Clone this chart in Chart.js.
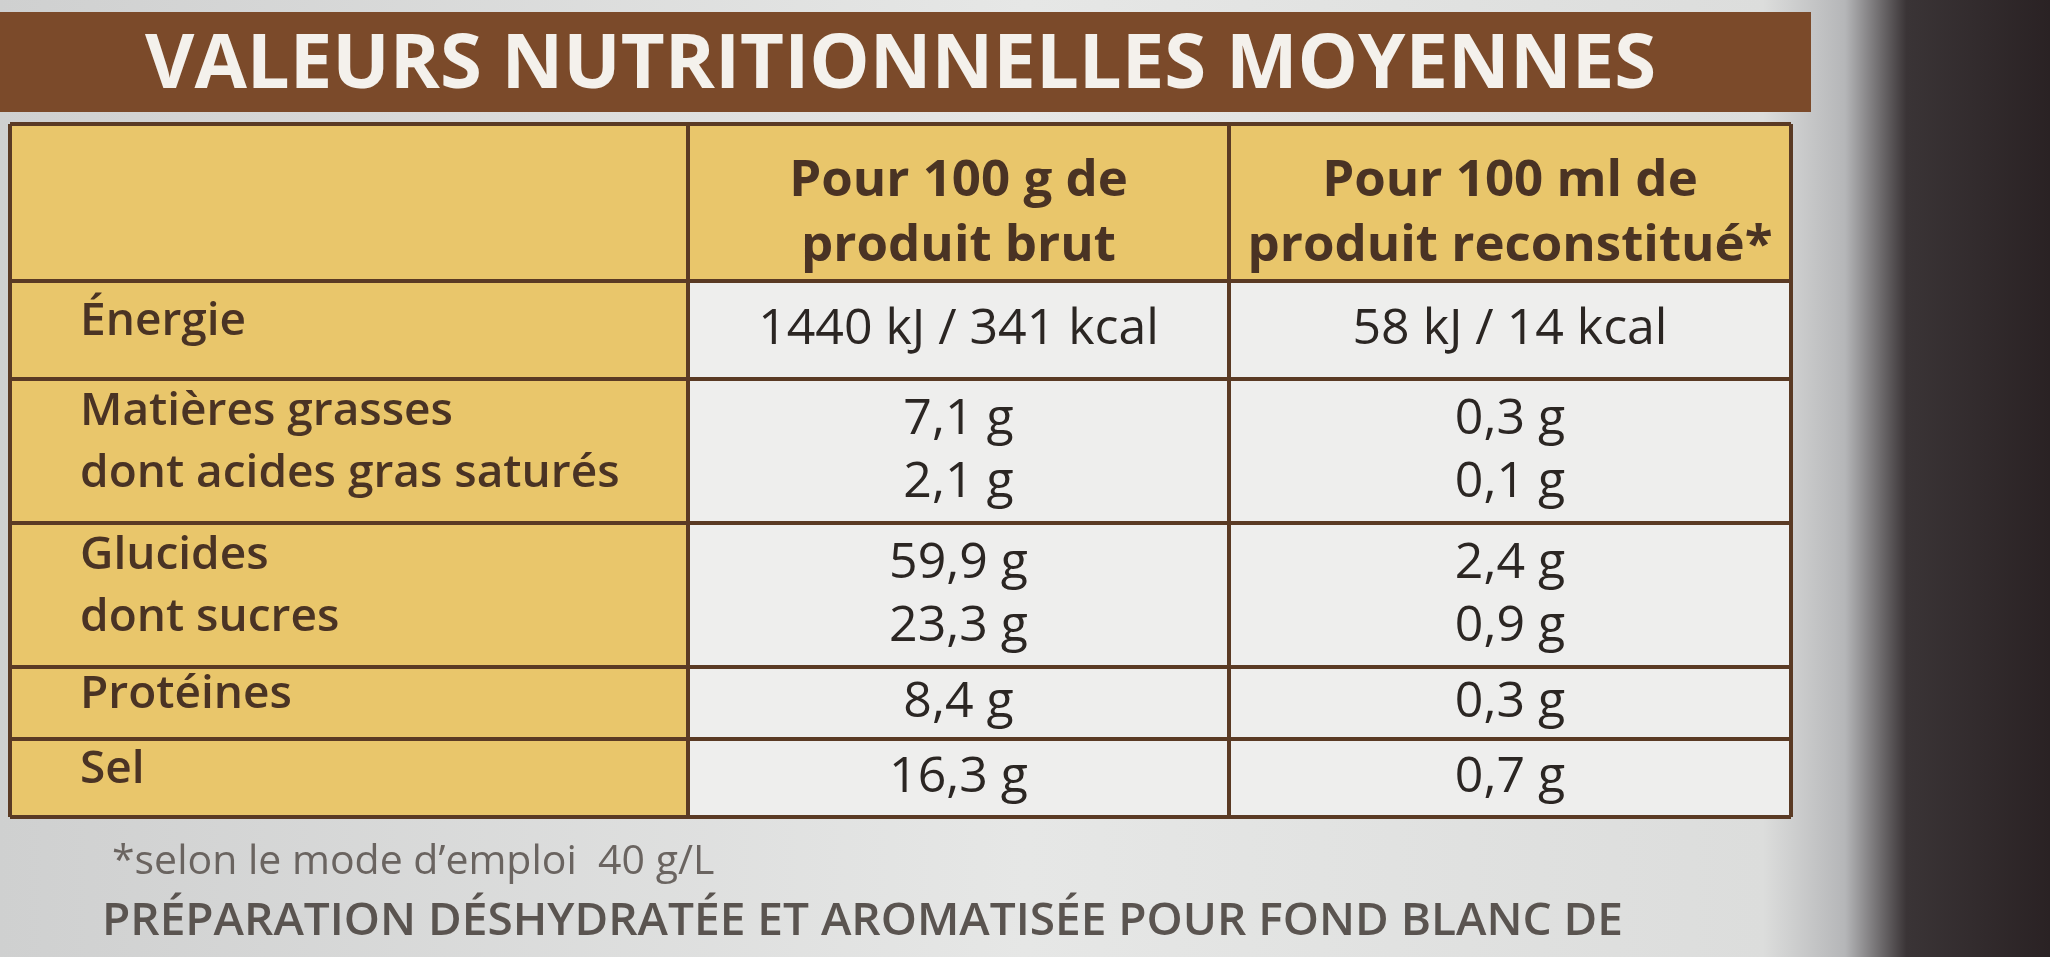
<!DOCTYPE html>
<html>
<head>
<meta charset="utf-8">
<script src="https://cdn.jsdelivr.net/npm/chart.js@4"></script>
<style>
  html, body { margin: 0; padding: 0; background: #d8d8d6; }
  canvas { display: block; }
</style>
</head>
<body>
<canvas id="label" width="2050" height="957"></canvas>
<script>
const title = 'VALEURS NUTRITIONNELLES MOYENNES'
const columnHeaders = [['Pour 100 g de', 'produit brut'], ['Pour 100 ml de', 'produit reconstitué*']]
const rowLabels = [['Énergie'], ['Matières grasses', 'dont acides gras saturés'], ['Glucides', 'dont sucres'], ['Protéines'], ['Sel']]
const perGram = [['1440 kJ / 341 kcal'], ['7,1 g', '2,1 g'], ['59,9 g', '23,3 g'], ['8,4 g'], ['16,3 g']]
const perMl = [['58 kJ / 14 kcal'], ['0,3 g', '0,1 g'], ['2,4 g', '0,9 g'], ['0,3 g'], ['0,7 g']]
const footnote = '*selon le mode d\u2019emploi  40 g/L'
const description = 'PRÉPARATION DÉSHYDRATÉE ET AROMATISÉE POUR FOND BLANC DE'

// grid lines of the table, in the page's own units
const colEdges = [10, 688, 1229, 1791]
const rowEdges = [124, 281, 379, 523, 667, 739, 817]

const tablePlugin = {
  id: 'table',
  beforeDraw(chart) {
    const { ctx, scales: { x, y } } = chart
    const X = v => x.getPixelForValue(v)
    const Y = v => y.getPixelForValue(v)
    ctx.save()
    // paper background
    const g = ctx.createLinearGradient(0, 0, X(2050), 0)
    g.addColorStop(0, '#cfd0d0')
    g.addColorStop(0.5, '#e6e7e6')
    g.addColorStop(0.86, '#dcdddc')
    g.addColorStop(0.9, '#b5b6b8')
    g.addColorStop(0.93, '#3a3436')
    g.addColorStop(1, '#2a2224')
    ctx.fillStyle = g
    ctx.fillRect(0, 0, chart.width, chart.height)

    // title band
    ctx.fillStyle = '#7b4a2a'
    ctx.fillRect(X(0), Y(12), X(1811) - X(0), Y(112) - Y(12))
    ctx.fillStyle = '#f4f1ec'
    ctx.font = 'bold 76px "Open Sans", sans-serif'
    ctx.textBaseline = 'middle'
    ctx.textAlign = 'left'
    ctx.fillText(title, X(145), Y(66))

    // cells
    const cols = colEdges.length - 1
    const rows = rowEdges.length - 1
    for (let r = 0; r < rows; r++) {
      for (let c = 0; c < cols; c++) {
        const yellow = r === 0 || c === 0
        ctx.fillStyle = yellow ? '#e9c66b' : '#eeeeed'
        ctx.fillRect(X(colEdges[c]), Y(rowEdges[r]), X(colEdges[c + 1]) - X(colEdges[c]), Y(rowEdges[r + 1]) - Y(rowEdges[r]))
      }
    }
    ctx.strokeStyle = '#5a3a24'
    ctx.lineWidth = 4
    colEdges.forEach(v => { ctx.beginPath(); ctx.moveTo(X(v), Y(rowEdges[0])); ctx.lineTo(X(v), Y(rowEdges[rows])); ctx.stroke() })
    rowEdges.forEach(v => { ctx.beginPath(); ctx.moveTo(X(colEdges[0]), Y(v)); ctx.lineTo(X(colEdges[cols]), Y(v)); ctx.stroke() })

    const drawLines = (lines, cx, r, align, size, color, lift) => {
      const top = Y(rowEdges[r]), bot = Y(rowEdges[r + 1])
      const step = lines.length > 1 ? (bot - top) / (lines.length + 0.3) : 0
      const mid = (top + bot) / 2 - lift
      ctx.fillStyle = color
      ctx.textAlign = align
      ctx.font = size
      lines.forEach((t, i) => ctx.fillText(t, cx, mid + (i - (lines.length - 1) / 2) * step))
    }
    // header row
    columnHeaders.forEach((lines, i) => {
      const cx = (X(colEdges[i + 1]) + X(colEdges[i + 2])) / 2
      ctx.fillStyle = '#4a3324'
      ctx.textAlign = 'center'
      ctx.font = 'bold 51px "Open Sans", sans-serif'
      ctx.fillText(lines[0], cx, Y(181))
      ctx.fillText(lines[1], cx, Y(246))
    })
    rowLabels.forEach((lines, i) => drawLines(lines, X(colEdges[0] + 70), i + 1, 'left', '600 46px "Open Sans", sans-serif', '#4a3324', 8))
    perGram.forEach((lines, i) => drawLines(lines, (X(colEdges[1]) + X(colEdges[2])) / 2, i + 1, 'center', '50px "Open Sans", sans-serif', '#2b2623', 0))
    perMl.forEach((lines, i) => drawLines(lines, (X(colEdges[2]) + X(colEdges[3])) / 2, i + 1, 'center', '50px "Open Sans", sans-serif', '#2b2623', 0))

    // footnote and description
    ctx.textAlign = 'left'
    ctx.fillStyle = '#6a6460'
    ctx.font = '41px "Open Sans", sans-serif'
    ctx.fillText(footnote, X(112), Y(862))
    ctx.fillStyle = '#5a5450'
    ctx.font = '600 46px "Open Sans", sans-serif'
    ctx.fillText(description, X(102), Y(922))
    ctx.restore()
  }
}

new Chart(document.getElementById('label'), {
  type: 'scatter',
  data: { datasets: [{ data: [] }] },
  options: {
    responsive: false,
    animation: false,
    layout: { padding: 0 },
    plugins: { legend: { display: false }, tooltip: { enabled: false } },
    scales: {
      x: { type: 'linear', min: 0, max: 2050, display: false },
      y: { type: 'linear', min: 0, max: 957, reverse: true, display: false }
    }
  },
  plugins: [tablePlugin]
})
</script>
</body>
</html>
